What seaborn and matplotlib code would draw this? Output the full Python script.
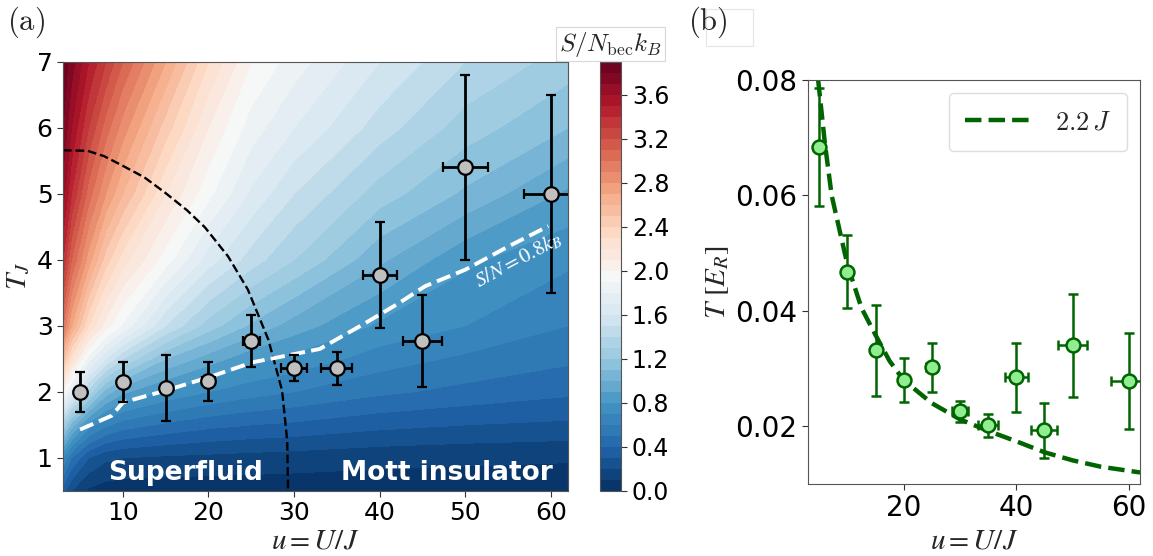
import numpy as np
import matplotlib
matplotlib.use("Agg")
import matplotlib.pyplot as plt
from matplotlib.patches import Rectangle
import seaborn as sns

# measured points, same runs in both panels
u_pts = [5, 10, 15, 20, 25, 30, 35, 40, 45, 50, 60]
u_err = [0, 0, 0, 0.8, 1.0, 1.5, 1.8, 2.0, 2.3, 2.6, 3.1]
tj_pts = [2.0, 2.15, 2.06, 2.16, 2.77, 2.36, 2.36, 3.77, 2.77, 5.4, 5.0]
tj_err = [0.3, 0.3, 0.5, 0.3, 0.4, 0.2, 0.25, 0.8, 0.7, 1.4, 1.5]
ter_pts = [0.0684, 0.0468, 0.0332, 0.0280, 0.0302, 0.0226, 0.0202, 0.0285, 0.0193, 0.0340, 0.0278]
ter_err = [0.0102, 0.0063, 0.0079, 0.0038, 0.0043, 0.0018, 0.0020, 0.0060, 0.0048, 0.0089, 0.0083]

# entropy per particle S/N_bec k_B on a (T_J, u) grid
u_grid = [3, 4, 6, 8, 10, 15, 20, 25, 30, 40, 50, 62]
t_grid = [0.5, 1, 1.5, 2, 2.5, 3, 4, 5, 6, 7]
s_grid = [
    [0.35, 0.20, 0.08, 0.05, 0.04, 0.04, 0.04, 0.04, 0.04, 0.04, 0.04, 0.04],
    [0.70, 0.50, 0.30, 0.22, 0.20, 0.18, 0.17, 0.16, 0.15, 0.13, 0.12, 0.11],
    [1.30, 1.05, 0.75, 0.62, 0.55, 0.48, 0.43, 0.40, 0.38, 0.33, 0.30, 0.28],
    [2.00, 1.75, 1.35, 1.05, 0.92, 0.78, 0.70, 0.64, 0.60, 0.52, 0.47, 0.42],
    [2.55, 2.25, 1.85, 1.60, 1.40, 1.10, 0.95, 0.83, 0.77, 0.65, 0.58, 0.52],
    [3.00, 2.70, 2.30, 2.05, 1.88, 1.50, 1.25, 1.08, 0.95, 0.78, 0.70, 0.60],
    [3.40, 3.10, 2.75, 2.45, 2.25, 1.95, 1.65, 1.45, 1.30, 1.02, 0.82, 0.72],
    [3.65, 3.40, 3.05, 2.80, 2.60, 2.20, 1.93, 1.68, 1.50, 1.25, 1.08, 0.88],
    [3.80, 3.60, 3.30, 3.05, 2.85, 2.45, 2.10, 1.85, 1.70, 1.45, 1.25, 1.10],
    [3.89, 3.75, 3.50, 3.30, 3.10, 2.70, 2.30, 2.00, 1.85, 1.60, 1.40, 1.25],
]
cbar_ticks = [0.0, 0.4, 0.8, 1.2, 1.6, 2.0, 2.4, 2.8, 3.2, 3.6]

# superfluid / Mott boundary
pb_u = [3.0, 5.9, 7.8, 9.9, 12.5, 14.9, 17.5, 19.6, 22.3, 24.6, 27.0, 28.6, 29.2, 29.3]
pb_t = [5.66, 5.65, 5.57, 5.43, 5.25, 5.02, 4.75, 4.49, 4.05, 3.55, 2.79, 2.02, 1.26, 0.5]

# S/N = 0.8 kB line
s08_u = [5, 8.7, 10, 15, 20, 25.2, 28, 33, 38.3, 42.2, 45.3, 50, 55, 59.7]
s08_t = [1.43, 1.64, 1.84, 2.02, 2.22, 2.45, 2.52, 2.65, 3.04, 3.34, 3.6, 3.85, 4.2, 4.51]

# T = 2.2 J in recoil units
fit_u = [4.8, 6.0, 7.2, 10, 12.5, 15, 17.5, 20, 25, 30, 35, 40, 45, 50, 55, 62]
fit_t = [0.080, 0.069, 0.060, 0.048, 0.0405, 0.0358, 0.0313, 0.0280, 0.0240, 0.0212,
         0.0192, 0.0174, 0.0155, 0.0141, 0.0130, 0.0120]

sns.set_style("ticks")
plt.rcParams["font.family"] = ["DejaVu Sans"]
plt.rcParams["mathtext.fontset"] = "cm"
plt.rcParams["axes.edgecolor"] = "#555555"
plt.rcParams["xtick.color"] = "#333333"
plt.rcParams["ytick.color"] = "#333333"
plt.rcParams["xtick.labelcolor"] = "black"
plt.rcParams["ytick.labelcolor"] = "black"

fig = plt.figure(figsize=(11.53, 5.56), dpi=100)
ax_a = fig.add_axes([0.0546, 0.117, 0.438, 0.772])
cax = fig.add_axes([0.520, 0.117, 0.019, 0.772])
ax_b = fig.add_axes([0.7008, 0.1295, 0.288, 0.7266])

# (a) entropy map
levels = np.linspace(0, 3.9, 40)
cf = ax_a.contourf(u_grid, t_grid, np.array(s_grid), levels=levels, cmap="RdBu_r")
sns.lineplot(x=pb_u, y=pb_t, ax=ax_a, color="black", lw=1.7, ls="--",
             estimator=None, sort=False)
sns.lineplot(x=s08_u, y=s08_t, ax=ax_a, color="white", lw=2.8, ls="--",
             estimator=None, sort=False)
ax_a.errorbar(u_pts, tj_pts, xerr=u_err, yerr=tj_err, fmt="o", ms=10.5,
              mfc="silver", mec="black", mew=1.6, ecolor="black",
              elinewidth=2, capsize=3.5, capthick=2)
ax_a.text(56.2, 4.0, r"$S/N = 0.8k_B$", color="white", fontsize=15,
          rotation=28, ha="center", va="center", math_fontfamily="stix")
ax_a.text(17.3, 0.77, "Superfluid", color="white", fontsize=19,
          fontweight="bold", ha="center", va="center")
ax_a.text(47.9, 0.77, "Mott insulator", color="white", fontsize=19,
          fontweight="bold", ha="center", va="center")
ax_a.set_xlim(3, 62)
ax_a.set_ylim(0.5, 7)
ax_a.set_xticks([10, 20, 30, 40, 50, 60])
ax_a.set_yticks([1, 2, 3, 4, 5, 6, 7])
ax_a.tick_params(labelsize=18, length=4)
ax_a.set_xlabel(r"$u = U/J$", fontsize=21, math_fontfamily="stix", labelpad=1)
ax_a.set_ylabel(r"$T_J$", fontsize=21, math_fontfamily="stix", labelpad=3)

cb = fig.colorbar(cf, cax=cax, ticks=cbar_ticks)
cb.ax.tick_params(labelsize=17, length=4)
cb.ax.set_yticklabels([f"{t:.1f}" for t in cbar_ticks])
cb.outline.set_edgecolor("#555555")
cax.set_title(r"$S/N_{\rm bec}k_B$", fontsize=18, pad=8,
              bbox=dict(fc="white", ec="#d8d8d8", lw=0.8, pad=2))

# (b) temperature in recoil units
sns.lineplot(x=fit_u, y=fit_t, ax=ax_b, color="darkgreen", lw=3.2, ls="--",
             estimator=None, sort=False, label=r"$2.2\,J$")
ax_b.errorbar(u_pts, ter_pts, xerr=u_err, yerr=ter_err, fmt="o", ms=10,
              mfc="#90ee90", mec="darkgreen", mew=1.8, ecolor="darkgreen",
              elinewidth=1.8, capsize=3.8, capthick=1.8)
ax_b.set_xlim(3, 62)
ax_b.set_ylim(0.01, 0.08)
ax_b.set_xticks([20, 40, 60])
ax_b.set_yticks([0.02, 0.04, 0.06, 0.08])
ax_b.tick_params(labelsize=20, length=4)
ax_b.set_xlabel(r"$u = U/J$", fontsize=21, math_fontfamily="stix", labelpad=3)
ax_b.set_ylabel(r"$T\ [E_R]$", fontsize=21, math_fontfamily="stix", labelpad=3)
ax_b.legend(loc="upper right", fontsize=19, handlelength=2.6, borderpad=0.6,
            framealpha=1, edgecolor="#dddddd")

fig.text(0.006, 0.96, r"$\mathrm{(a)}$", fontsize=22, va="center", ha="left")
fig.text(0.597, 0.96, r"$\mathrm{(b)}$", fontsize=22, va="center", ha="left")
fig.add_artist(Rectangle((0.612, 0.917), 0.041, 0.066, transform=fig.transFigure,
                         fill=False, ec="#e6e6e6", lw=0.8))

fig.savefig("out.png", dpi=100)
